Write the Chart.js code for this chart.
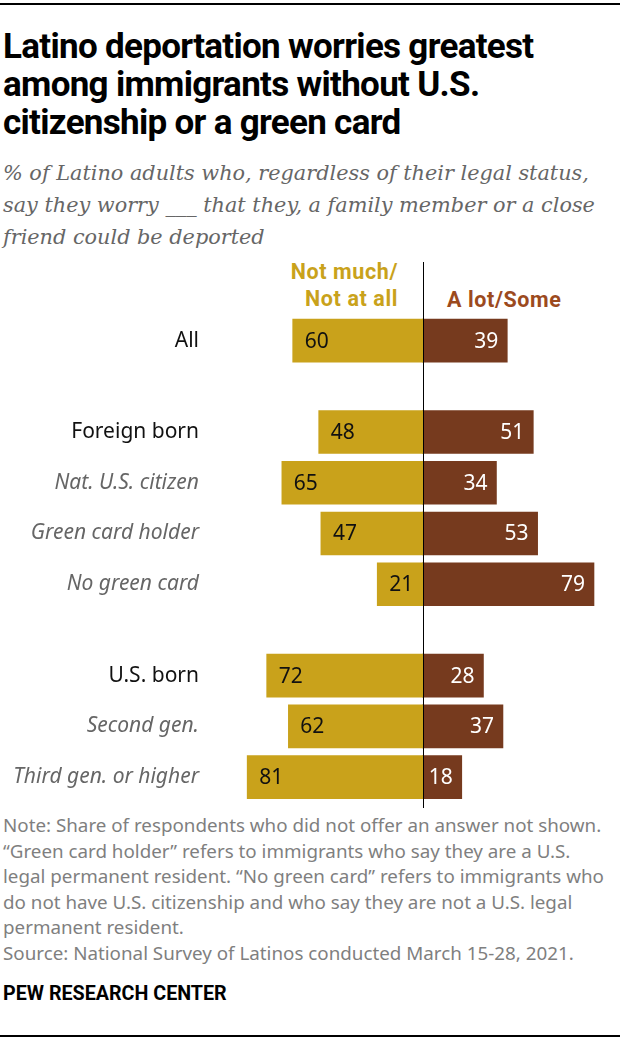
<!DOCTYPE html>
<html>
<head>
<meta charset="utf-8">
<script src="https://cdn.jsdelivr.net/npm/chart.js@4/dist/chart.umd.min.js"></script>
<style>
  body { margin: 0; background: #fff; }
  #page { position: relative; width: 620px; height: 1040px; overflow: hidden; background: #fff; }
  .rule { position: absolute; left: 0; width: 620px; height: 2px; background: #000; }
  #title { position: absolute; left: 3px; top: 28px; font: bold 35px Roboto, sans-serif; letter-spacing: -0.7px; line-height: 38px; color: #000; white-space: nowrap; }
  #subtitle { position: absolute; left: 3px; top: 157px; font: italic 20.8px "DejaVu Serif", serif; line-height: 32px; color: #666; white-space: nowrap; }
  .hdr { position: absolute; font: bold 21.5px Roboto, sans-serif; letter-spacing: 0.6px; line-height: 27px; }
  #hdrLeft { right: 222px; top: 258px; text-align: right; color: #C9A21B; }
  #hdrRight { left: 447px; top: 286px; color: #9C4A1E; }
  #chartBox { position: absolute; left: 0; top: 262px; width: 620px; height: 546px; }
  #notes { position: absolute; left: 3px; top: 813px; font: 18.8px "Noto Sans", sans-serif; line-height: 25.6px; color: #7f7f7f; white-space: nowrap; }
  #brand { position: absolute; left: 3px; top: 982px; font: bold 19.7px Roboto, sans-serif; color: #000; }
</style>
</head>
<body>
<div id="page">
  <div class="rule" style="top:3px"></div>
  <div id="title">Latino deportation worries greatest<br>among immigrants without U.S.<br>citizenship or a green card</div>
  <div id="subtitle">% of Latino adults who, regardless of their legal status,<br>say they worry ___ that they, a family member or a close<br>friend could be deported</div>
  <div class="hdr" id="hdrLeft">Not much/<br>Not at all</div>
  <div class="hdr" id="hdrRight">A lot/Some</div>
  <div id="chartBox"><canvas id="worryChart"></canvas></div>
  <div id="notes">Note: Share of respondents who did not offer an answer not shown.<br>“Green card holder” refers to immigrants who say they are a U.S.<br>legal permanent resident. “No green card” refers to immigrants who<br>do not have U.S. citizenship and who say they are not a U.S. legal<br>permanent resident.<br>Source: National Survey of Latinos conducted March 15-28, 2021.</div>
  <div id="brand">PEW RESEARCH CENTER</div>
  <div class="rule" style="top:1035px"></div>
</div>
<script>
const categories = ['All', 'Foreign born', 'Nat. U.S. citizen', 'Green card holder', 'No green card',
                    'U.S. born', 'Second gen.', 'Third gen. or higher'];
const groups = [0, 1, 1, 1, 1, 2, 2, 2];
const mainRows = ['All', 'Foreign born', 'U.S. born'];
const notMuch = [60, 48, 65, 47, 21, 72, 62, 81];
const aLot = [39, 51, 34, 53, 79, 28, 37, 18];

const GOLD = '#C9A21B';
const BROWN = '#763A1E';
const GROUP_GAP = 0.8;

// row position = row index plus an extra gap for each new group
const rowPos = categories.map((c, i) => i + groups[i] * GROUP_GAP);

const valueLabels = {
  id: 'valueLabels',
  afterDatasetsDraw(chart) {
    const ctx = chart.ctx;
    ctx.save();
    ctx.font = '21px "Noto Sans", sans-serif';
    ctx.textBaseline = 'middle';
    chart.getDatasetMeta(0).data.forEach((bar, i) => {
      ctx.fillStyle = '#111';
      ctx.textAlign = 'left';
      ctx.fillText(notMuch[i], bar.x + 12, bar.y + 1);
    });
    chart.getDatasetMeta(1).data.forEach((bar, i) => {
      ctx.fillStyle = '#fff';
      ctx.textAlign = 'right';
      ctx.fillText(aLot[i], bar.x - 9, bar.y + 1);
    });
    // center line
    const x0 = Math.round(chart.scales.x.getPixelForValue(0)) + 0.5;
    ctx.strokeStyle = '#000';
    ctx.lineWidth = 1;
    ctx.beginPath();
    ctx.moveTo(x0, chart.chartArea.top);
    ctx.lineTo(x0, chart.chartArea.bottom);
    ctx.stroke();
    ctx.restore();
  }
};

new Chart(document.getElementById('worryChart'), {
  type: 'bar',
  data: {
    datasets: [
      {
        label: 'Not much/Not at all',
        data: notMuch.map((v, i) => ({ x: -v, y: rowPos[i] })),
        backgroundColor: GOLD,
        barThickness: 43,
        grouped: false
      },
      {
        label: 'A lot/Some',
        data: aLot.map((v, i) => ({ x: v, y: rowPos[i] })),
        backgroundColor: BROWN,
        barThickness: 43,
        grouped: false
      }
    ]
  },
  options: {
    indexAxis: 'y',
    responsive: true,
    maintainAspectRatio: false,
    animation: false,
    layout: { padding: 0 },
    plugins: {
      legend: { display: false },
      tooltip: { enabled: false }
    },
    scales: {
      x: {
        type: 'linear',
        min: -94,
        max: 91,
        display: false
      },
      y: {
        type: 'linear',
        reverse: true,
        offset: false,
        min: -1.55,
        max: 9.21,
        grid: { display: false, drawTicks: false },
        border: { display: false },
        afterBuildTicks: scale => { scale.ticks = rowPos.map(v => ({ value: v })); },
        afterFit: scale => {
          scale.width = 219;
          scale.paddingTop = 0;
          scale.paddingBottom = 0;
        },
        ticks: {
          autoSkip: false,
          padding: 20,
          callback: (value, index) => categories[index],
          color: ctx => mainRows.includes(categories[ctx.index]) ? '#111' : '#666',
          font: ctx => ({
            family: '"Noto Sans", sans-serif',
            size: 21,
            style: mainRows.includes(categories[ctx.index]) ? 'normal' : 'italic'
          })
        }
      }
    }
  },
  plugins: [valueLabels]
});
</script>
</body>
</html>
